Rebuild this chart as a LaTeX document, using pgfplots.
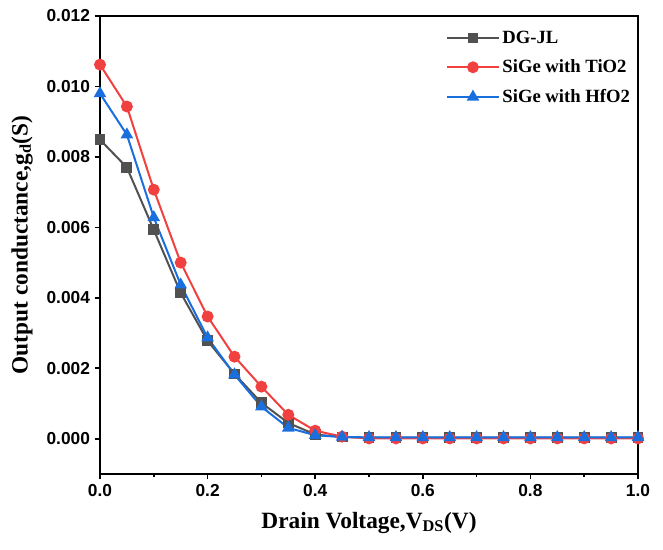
\documentclass[border=0pt]{standalone}
\usepackage{fontspec}
\setmainfont{Liberation Serif}
\newfontfamily\tickfont{Liberation Sans}
\usepackage{pgfplots}
\pgfplotsset{compat=1.18}
\definecolor{cgray}{HTML}{515151}
\definecolor{cred}{HTML}{F14040}
\definecolor{cblue}{HTML}{1A6FDF}
\begin{document}
\begin{tikzpicture}
\useasboundingbox (-75pt,-56.25pt) rectangle (422.25pt,355.5pt);
\begin{axis}[
  at={(0pt,0pt)}, anchor=south west,
  width=403.5pt, height=343.5pt, scale only axis,
  xmin=0, xmax=1, ymin=-0.001, ymax=0.012,
  xtick={0,0.2,0.4,0.6,0.8,1.0},
  minor xtick={0.1,0.3,0.5,0.7,0.9},
  ytick={0,0.002,0.004,0.006,0.008,0.010,0.012},
  tick align=outside, xtick pos=bottom, ytick pos=left,
  major tick length=4pt, minor tick length=2.5pt,
  every tick/.style={black, line width=1.3pt},
  axis line style={line width=1.5pt},
  scaled y ticks=false,
  /pgf/number format/assume math mode=true,
  yticklabel style={/pgf/number format/.cd, fixed, fixed zerofill, precision=3},
  xticklabel style={/pgf/number format/.cd, fixed, fixed zerofill, precision=1},
  ticklabel style={font=\tickfont\bfseries\fontsize{13}{15}\selectfont},
  every axis y label/.style={at={(axis description cs:-0.145,0.5)}, rotate=90, anchor=center},
  every axis x label/.style={at={(axis description cs:0.5,-0.107)}, anchor=center},
  label style={font=\bfseries\fontsize{17.5}{20}\selectfont},
  xlabel={Drain Voltage,V\textsubscript{DS}(V)},
  ylabel={Output conductance,g\textsubscript{d}(S)},
  legend style={at={(axis description cs:0.998,0.98)}, anchor=north east, draw=none, fill=none,
    font=\bfseries\fontsize{14}{16}\selectfont, row sep=7pt},
  legend cell align=left,
  legend image code/.code={\draw[mark repeat=2,mark phase=2] plot coordinates {(0cm,0cm) (0.68cm,0cm) (1.36cm,0cm)};},
]
\addplot[cgray, line width=1.5pt, mark=square*, mark size=3.3pt] coordinates {
(0,0.00849) (0.05,0.0077) (0.1,0.00593) (0.15,0.00414) (0.2,0.00278) (0.25,0.00184) (0.3,0.00102) (0.35,0.00045) (0.4,0.00012) (0.45,0.00005) (0.5,0.00003) (0.55,0.00003) (0.6,0.00003) (0.65,0.00003) (0.7,0.00003) (0.75,0.00003) (0.8,0.00003) (0.85,0.00003) (0.9,0.00003) (0.95,0.00003) (1.0,0.00003)};
\addlegendentry{DG-JL}
\addplot[cred, line width=1.5pt, mark=*, mark size=3.7pt] coordinates {
(0,0.01062) (0.05,0.00943) (0.1,0.00707) (0.15,0.0050) (0.2,0.00347) (0.25,0.00233) (0.3,0.00148) (0.35,0.00068) (0.4,0.00023) (0.45,0.00006) (0.5,0.00001) (0.55,0.00001) (0.6,0.00001) (0.65,0.00001) (0.7,0.00001) (0.75,0.00001) (0.8,0.00001) (0.85,0.00001) (0.9,0.00001) (0.95,0.00001) (1.0,0.00001)};
\addlegendentry{SiGe with TiO2}
\addplot[cblue, line width=1.5pt, mark=triangle*, mark size=4pt] coordinates {
(0,0.0098) (0.05,0.00863) (0.1,0.00628) (0.15,0.00437) (0.2,0.00287) (0.25,0.00182) (0.3,0.00091) (0.35,0.00031) (0.4,0.0001) (0.45,0.00005) (0.5,0.00004) (0.55,0.00004) (0.6,0.00004) (0.65,0.00004) (0.7,0.00004) (0.75,0.00004) (0.8,0.00004) (0.85,0.00004) (0.9,0.00004) (0.95,0.00004) (1.0,0.00004)};
\addlegendentry{SiGe with HfO2}
\end{axis}
\end{tikzpicture}
\end{document}
